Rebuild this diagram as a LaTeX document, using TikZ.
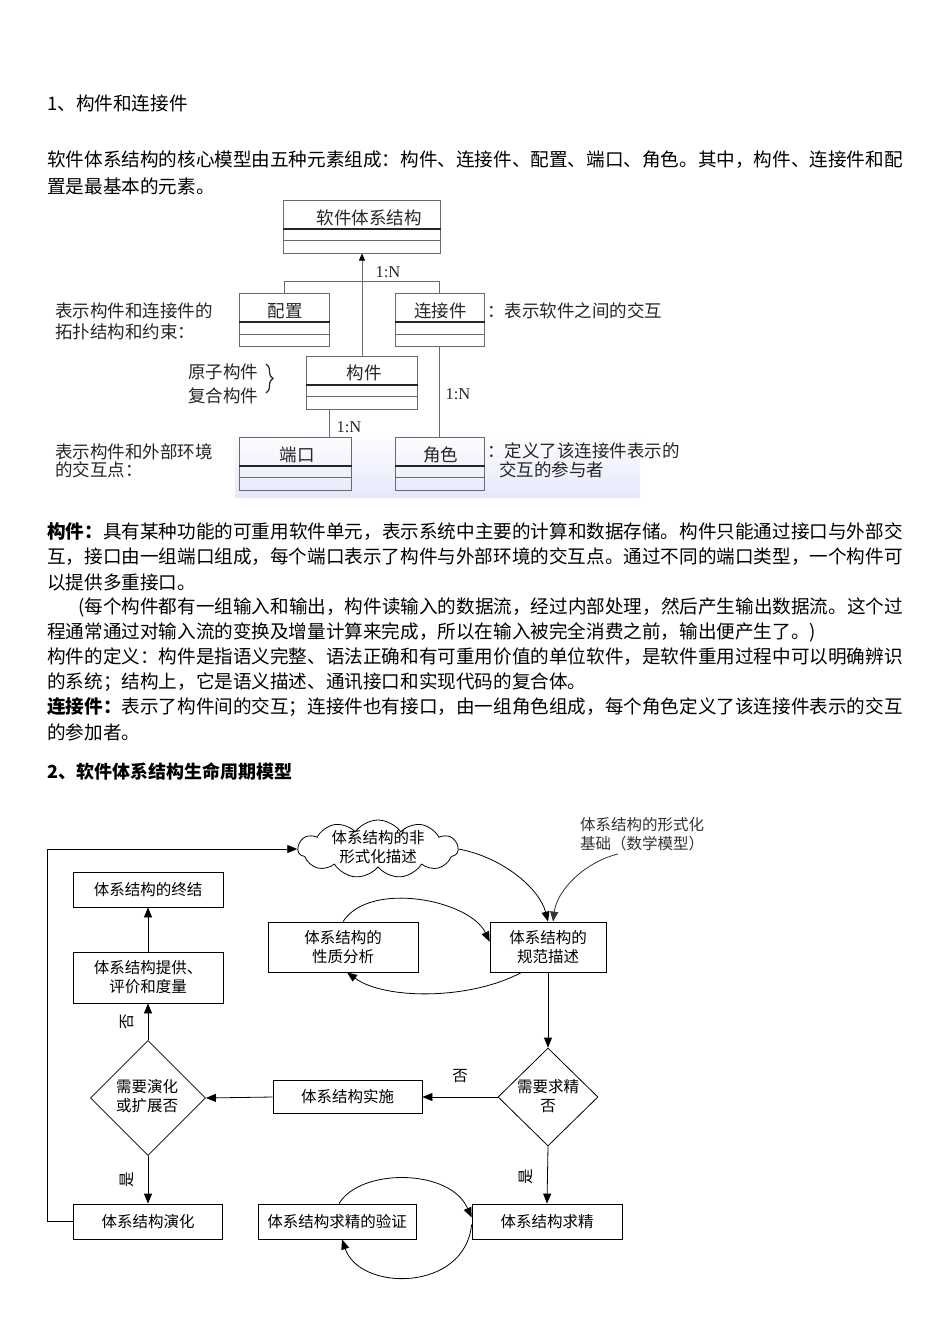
\documentclass[tikz,border=0pt]{standalone}
\usepackage{fontspec}
\setmainfont{Noto Sans CJK SC}
\newfontfamily\latserif{Liberation Serif}
\usetikzlibrary{arrows.meta,shapes.symbols,shapes.geometric,decorations.pathreplacing,calc}
\definecolor{umlline}{HTML}{6A6A6A}
\definecolor{umltext}{HTML}{262626}
\definecolor{tint}{RGB}{230,232,250}
\begin{document}
\begin{tikzpicture}[x=1pt,y=-1pt,
  body/.style={anchor=west,inner sep=0pt,font=\fontsize{18.6}{22}\selectfont},
  umlbox/.style={draw=umlline,line width=1pt,rectangle,minimum height=53pt,inner sep=0pt},
  umltxt/.style={inner sep=0pt,text=umltext,font=\fontsize{17.5}{19}\selectfont},
  umllbl/.style={inner sep=0pt,anchor=west,text=umltext,font=\fontsize{17.5}{19}\selectfont},
  mult/.style={inner sep=0pt,text=umltext,font=\latserif\fontsize{16.5}{18}\selectfont},
  thickrule/.style={draw=black!85,line width=2pt},
  thinrule/.style={draw=umlline,line width=0.9pt},
  fbox/.style={draw,line width=0.8pt,rectangle,inner sep=0pt,align=center,font=\fontsize{15.5}{19}\selectfont},
  ftxt/.style={inner sep=0pt,align=center,font=\fontsize{15.5}{19}\selectfont},
  arr/.style={line width=0.8pt,-{Triangle[length=10pt,width=8pt]}},
  uarr/.style={draw=umlline,line width=1pt,-{Triangle[length=7pt,width=6pt,color=black]}}
]
\useasboundingbox[fill=white] (0,0) rectangle (950,1344);

% ---------- text part 1 ----------
\node[body] (h1) at (47,103) {1、构件和连接件};
\node[body] (p1) at (47,160) {软件体系结构的核心模型由五种元素组成：构件、连接件、配置、端口、角色。其中，构件、连接件和配};
\node[body] (p2) at (47,186) {置是最基本的元素。};

% ---------- UML diagram ----------
\shade[top color=white,bottom color=tint] (235,430) rectangle (640,497);
\node[umlbox,minimum width=157pt] (top) at (362,226.5) {};
\node[umlbox,minimum width=90pt] (cfg) at (284,320) {};
\node[umlbox,minimum width=89pt] (conn) at (439.5,320) {};
\node[umlbox,minimum width=111pt] (comp) at (362,382.5) {};
\node[umlbox,minimum width=112pt] (port) at (295,463.5) {};
\node[umlbox,minimum width=89pt] (role) at (439.5,463.5) {};
\foreach \b in {top,cfg,conn,comp,port,role}{
  \draw[thickrule] ($(\b.north west)+(0,29)$) -- ($(\b.north east)+(0,29)$);
  \draw[thinrule] ($(\b.north west)+(0,41)$) -- ($(\b.north east)+(0,41)$);
}
\node[umltxt] (topt) at ($(top.north)+(7,18)$) {软件体系结构};
\node[umltxt] (cfgt) at ($(cfg.north)+(1,18)$) {配置};
\node[umltxt] (connt) at ($(conn.north)+(1,18)$) {连接件};
\node[umltxt] (compt) at ($(comp.north)+(2,17)$) {构件};
\node[umltxt] (portt) at ($(port.north)+(2,18)$) {端口};
\node[umltxt] (rolet) at ($(role.north)+(1,18)$) {角色};

\draw[uarr] (comp.north) -- (top.south);
\draw[draw=umlline,line width=1pt] (cfg.north) -- ++(0,-12) -| (conn.north);
\draw[draw=umlline,line width=1pt] ($(comp.south west)+(23,0)$) coordinate (cp) -- (cp |- port.north);
\draw[draw=umlline,line width=1pt] (conn.south) -- (role.north);
\node[mult] (m1) at (388,272) {1:N};
\node[mult] (m2) at (349,427) {1:N};
\node[mult] (m3) at (458,394) {1:N};

\node[umllbl] (l1) at (55,311) {表示构件和连接件的};
\node[umllbl] (l2) at (55,332) {拓扑结构和约束：};
\node[umllbl] (l3) at (188,372) {原子构件};
\node[umllbl] (l4) at (188,396) {复合构件};
\draw[draw=umltext,line width=1.2pt,decorate,decoration={brace,amplitude=7pt}] (266,364) -- (266,393);
\node[umllbl] (l5) at (55,452) {表示构件和外部环境};
\node[umllbl] (l6) at (55,470) {的交互点：};
\node[umllbl] (r1) at (487,311) {：表示软件之间的交互};
\node[umllbl] (r2) at (487,451) {：定义了该连接件表示的};
\node[umllbl] (r3) at (499,470) {交互的参与者};

% ---------- text part 2 ----------
\node[body] (q1) at (47,532) {{\bfseries 构件：}具有某种功能的可重用软件单元，表示系统中主要的计算和数据存储。构件只能通过接口与外部交};
\node[body] (q2) at (47,557) {互，接口由一组端口组成，每个端口表示了构件与外部环境的交互点。通过不同的端口类型，一个构件可};
\node[body] (q3) at (47,582) {以提供多重接口。};
\node[body] (q4) at (78,607) {(每个构件都有一组输入和输出，构件读输入的数据流，经过内部处理，然后产生输出数据流。这个过};
\node[body] (q5) at (47,632) {程通常通过对输入流的变换及增量计算来完成，所以在输入被完全消费之前，输出便产生了。)};
\node[body] (q6) at (47,657) {构件的定义：构件是指语义完整、语法正确和有可重用价值的单位软件，是软件重用过程中可以明确辨识};
\node[body] (q7) at (47,682) {的系统；结构上，它是语义描述、通讯接口和实现代码的复合体。};
\node[body] (q8) at (47,707) {{\bfseries 连接件：}表示了构件间的交互；连接件也有接口，由一组角色组成，每个角色定义了该连接件表示的交互};
\node[body] (q9) at (47,732) {的参加者。};
\node[body,font=\bfseries\fontsize{18}{22}\selectfont] (h2) at (47,772) {2、软件体系结构生命周期模型};

% ---------- flowchart ----------
\node[draw,line width=0.8pt,cloud,cloud puffs=11,cloud puff arc=110,aspect=2.76,minimum width=160pt,minimum height=58pt,inner sep=0pt] (cl) at (378,849) {};
\node[ftxt] (clt) at (378,847) {体系结构的非\\形式化描述};
\node[fbox,minimum width=150pt,minimum height=35pt] (fin) at (148,889.5) {体系结构的终结};
\node[fbox,minimum width=150pt,minimum height=51pt] (eva) at (148,977.5) {体系结构提供、\\评价和度量};
\node[fbox,minimum width=150pt,minimum height=50pt] (prop) at (343,947) {体系结构的\\性质分析};
\node[fbox,minimum width=116pt,minimum height=50pt] (spec) at (548,947) {体系结构的\\规范描述};
\node[ftxt,align=left,anchor=west,text=black!80] (math) at (580,834) {体系结构的形式化\\基础（数学模型）};
\node[draw,line width=0.8pt,diamond,minimum width=100pt,minimum height=98pt,inner sep=0pt] (d1) at (548,1097) {};
\node[ftxt] (d1t) at (548,1096) {需要求精\\否};
\node[fbox,minimum width=149pt,minimum height=33pt] (impl) at (347.5,1097) {体系结构实施};
\node[draw,line width=0.8pt,diamond,minimum width=115pt,minimum height=115pt,inner sep=0pt] (d2) at (148,1098) {};
\node[ftxt] (d2t) at (147,1096) {需要演化\\或扩展否};
\node[fbox,minimum width=149pt,minimum height=35pt] (evo) at (148,1221.5) {体系结构演化};
\node[fbox,minimum width=158pt,minimum height=35pt] (ver) at (337,1221.5) {体系结构求精的验证};
\node[fbox,minimum width=150pt,minimum height=35pt] (ref) at (547,1221.5) {体系结构求精};

\draw[arr] (spec.south) -- (d1.north);
\draw[arr] (d1.west) -- (impl.east);
\node[ftxt] (no1) at (460,1076) {否};
\draw[arr] (impl.west) -- (d2.east);
\draw[arr] (d2.north) -- (eva.south);
\node[ftxt,rotate=90] (no2) at (127,1022) {否};
\draw[arr] (eva.north) -- (fin.south);
\draw[arr] (d2.south) -- (evo.north);
\node[ftxt,rotate=90] (yes1) at (127,1180) {是};
\draw[arr] (d1.south) -- (ref.north);
\node[ftxt,rotate=90] (yes2) at (526,1177) {是};
\draw[arr] (evo.west) -- ++(-26,0) |- (cl.west);

\draw[arr] (cl.east) .. controls (505,858) and (540,890) .. (spec.north);
\coordinate (mstart) at ($(math.south west)+(38,3)$);
\draw[arr,draw=black!80] (mstart) .. controls (585,862) and (557,890) .. ($(spec.north)+(5,0)$);
\draw[arr] (prop.north) .. controls (370,880) and (470,900) .. ($(spec.north west)+(0,20)$);
\draw[arr] ($(spec.south west)+(32,0)$) .. controls (470,1000) and (385,1000) .. ($(prop.south)+(4,0)$);
\draw[arr] ($(ver.north)+(2,0)$) .. controls (360,1168) and (450,1168) .. ($(ref.west)+(0,-4)$);
\draw[arr] ($(ref.west)+(0,3)$) .. controls (465,1292) and (360,1292) .. ($(ver.south)+(5,0)$);
\end{tikzpicture}
\end{document}
